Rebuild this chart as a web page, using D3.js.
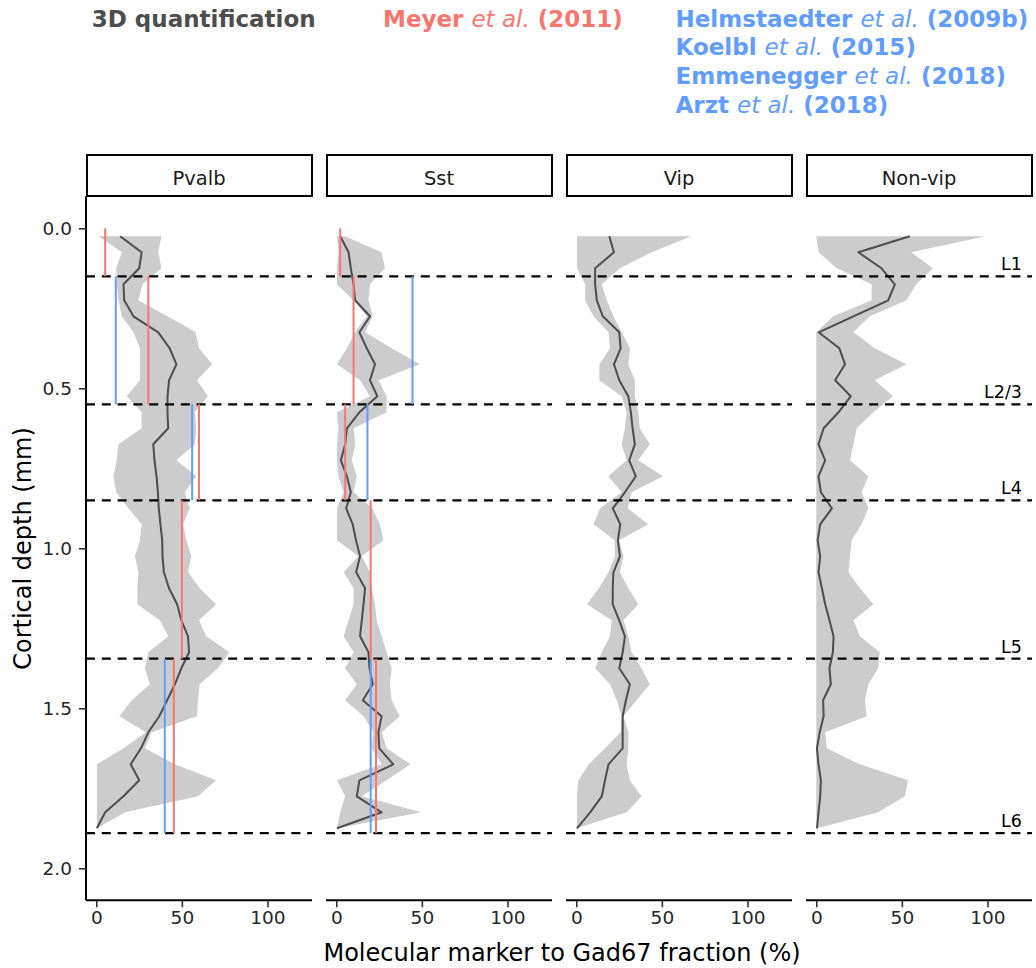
<!DOCTYPE html>
<html>
<head>
<meta charset="utf-8">
<script src="https://cdn.jsdelivr.net/npm/d3@7"></script>
<style>
  html, body { margin: 0; padding: 0; background: #fff; }
  svg { display: block; font-family: "DejaVu Sans", sans-serif; }
</style>
</head>
<body>
<svg id="chart" width="1036" height="968"></svg>
<script>
// Cortical depth bins (mm), centre of each 50 µm bin
const depth = [0.025, 0.075, 0.125, 0.175, 0.225, 0.275, 0.325, 0.375, 0.425, 0.475,
  0.525, 0.575, 0.625, 0.675, 0.725, 0.775, 0.825, 0.875, 0.925, 0.975,
  1.025, 1.075, 1.125, 1.175, 1.225, 1.275, 1.325, 1.375, 1.425, 1.475,
  1.525, 1.575, 1.625, 1.675, 1.725, 1.775, 1.825, 1.875];

const panels = ["Pvalb", "Sst", "Vip", "Non-vip"];

// 3D quantification: mean and spread (%) per bin
const pvalbMean = [13.9, 26.5, 25.1, 15.9, 16.3, 21.7, 36.2, 42.9, 46.8, 42.5, 41.6, 41.6, 42.0, 33.3, 34.0, 35.2, 36.0, 36.5, 37.5, 38.5,
  38.7, 39.5, 42.5, 47.2, 49.7, 53.6, 54.2, 49.7, 45.9, 41.4, 36.8, 30.4, 26.1, 20.1, 25.1, 15.9, 5.2, 0.4];
const pvalbLow = [1.3, 14.9, 11.6, 12.0, 13.0, 14.9, 21.7, 25.5, 25.5, 25.5, 17.8, 26.5, 26.5, 13.0, 12.0, 10.0, 11.6, 18.8, 26.5, 25.5,
  22.6, 24.6, 24.0, 24.0, 37.1, 42.0, 30.4, 28.4, 31.3, 20.7, 13.5, 29.0, 15.9, 0.4, 0.4, 0.4, 0.4, 0.4];
const pvalbHigh = [38.1, 36.2, 38.1, 27.0, 24.6, 41.6, 58.0, 60.0, 67.7, 58.8, 65.2, 57.5, 58.4, 57.5, 46.8, 58.4, 51.7, 54.6, 50.7, 52.6,
  55.5, 53.6, 60.4, 70.0, 60.0, 64.2, 77.8, 71.0, 60.4, 59.4, 58.8, 32.3, 28.4, 45.9, 70.0, 59.4, 16.8, 0.4];

const sstMean = [2.3, 7.2, 8.5, 10.1, 11.0, 19.7, 13.5, 17.8, 22.6, 19.7, 24.0, 13.5, 6.2, 5.2, 2.7, 6.2, 8.5, 5.8, 9.6, 11.5,
  13.9, 11.6, 16.8, 15.9, 14.9, 13.9, 18.8, 19.4, 21.3, 15.5, 26.5, 24.6, 25.1, 33.3, 13.5, 12.0, 26.5, 0.4];
const sstLow = [0.4, 1.3, 0.4, 0.4, 10.1, 17.8, 11.0, 6.2, 0.4, 13.9, 19.7, 0.4, 1.3, 0.4, 0.4, 1.3, 4.3, 0.4, 0.4, 0.4,
  12.9, 4.3, 10.1, 10.1, 7.2, 4.3, 10.1, 5.2, 12.0, 5.2, 15.9, 21.7, 20.7, 26.5, 0.4, 5.2, 2.3, 0.4];
const sstHigh = [5.0, 26.5, 28.4, 19.7, 18.8, 21.3, 16.8, 32.3, 48.7, 24.6, 29.4, 29.4, 10.1, 11.0, 9.1, 12.0, 10.1, 21.0, 25.5, 27.5,
  14.9, 19.7, 20.7, 22.6, 23.6, 26.5, 29.4, 32.3, 31.3, 32.3, 37.1, 26.5, 29.4, 43.3, 29.4, 14.9, 49.7, 0.4];

const vipMean = [19.3, 22.0, 11.0, 11.0, 12.0, 15.5, 25.1, 25.9, 22.0, 25.1, 30.4, 31.9, 32.9, 34.2, 30.9, 34.8, 28.4, 21.3, 25.7, 24.3,
  25.5, 21.7, 21.3, 21.3, 25.1, 28.4, 27.1, 25.1, 31.3, 29.0, 27.1, 27.1, 27.1, 18.8, 16.8, 14.9, 8.1, 0.4];
const vipLow = [0.4, 0.4, 0.4, 5.2, 5.2, 10.1, 18.8, 19.7, 13.5, 13.5, 26.5, 29.4, 28.4, 26.5, 29.4, 18.8, 26.5, 13.9, 10.1, 22.4,
  22.6, 18.8, 13.2, 6.2, 20.7, 19.7, 14.9, 11.0, 19.7, 23.6, 26.5, 25.9, 16.8, 7.2, 1.3, 0.4, 0.4, 0.4];
const vipHigh = [67.1, 44.0, 25.5, 14.9, 17.8, 21.7, 26.5, 31.3, 30.4, 34.2, 34.2, 36.2, 37.1, 42.9, 36.2, 50.7, 32.3, 30.0, 42.0, 25.1,
  27.5, 25.5, 30.4, 36.2, 27.5, 30.4, 32.3, 38.1, 43.0, 35.2, 27.5, 30.4, 30.4, 29.4, 31.3, 38.1, 29.4, 0.4];

const nonVipMean = [54.6, 24.6, 38.1, 45.9, 42.0, 21.7, 1.4, 13.5, 16.8, 11.0, 20.1, 13.0, 4.3, 1.3, 5.2, 1.3, 2.7, 9.1, 2.3, 0.8,
  2.3, 1.3, 3.3, 5.2, 7.7, 10.1, 9.7, 7.7, 8.5, 4.0, 4.3, 2.0, 0.4, 1.3, 2.7, 2.3, 1.3, 0.4];
const nonVipLow = [0, 1.4, 12.0, 32.3, 32.3, 10.1, 0, 0, 0, 0, 0, 0, 0, 0, 0, 0, 0, 0, 0, 0,
  0, 0, 0, 0, 0, 0, 0, 0, 0, 0, 0, 0, 0, 0, 0, 0, 0, 0.4];
const nonVipHigh = [99.0, 55.5, 68.1, 58.4, 52.6, 31.3, 21.7, 34.2, 52.6, 34.2, 44.9, 33.3, 23.6, 21.7, 19.7, 30.4, 26.5, 30.4, 26.5, 20.7,
  19.7, 18.8, 25.5, 33.3, 21.7, 25.5, 37.1, 36.2, 30.4, 28.4, 29.4, 5.2, 6.2, 25.5, 53.6, 51.7, 36.2, 0.4];

// Cortical layer boundaries (mm) and labels
const layerBounds = [0, 0.15, 0.55, 0.85, 1.345, 1.89];
const layerNames = ["L1", "L2/3", "L4", "L5", "L6"];

// Literature values per layer (%), null where not reported
const meyerPvalb = [5.2, 30.4, 60.0, 50.0, 45.3];
const otherPvalb = [null, 11.4, 56.0, null, 40.0];
const meyerSst = [2.3, 10.1, 5.2, 20.1, 23.2];
const otherSst = [null, 44.5, 18.2, null, 20.1];

const xTicks = [0, 50, 100];
const yTicks = [0, 0.5, 1.0, 1.5, 2.0];

const series = {
  "Pvalb":   { mean: pvalbMean,  low: pvalbLow,  high: pvalbHigh,  meyer: meyerPvalb, other: otherPvalb },
  "Sst":     { mean: sstMean,    low: sstLow,    high: sstHigh,    meyer: meyerSst,   other: otherSst },
  "Vip":     { mean: vipMean,    low: vipLow,    high: vipHigh,    meyer: null,       other: null },
  "Non-vip": { mean: nonVipMean, low: nonVipLow, high: nonVipHigh, meyer: null,       other: null }
};

const COL_MEYER = "#F8766D";
const COL_OTHER = "#619CFF";
const COL_OURS = "#4D4D4D";
const COL_TICKTEXT = "#262626";

const svg = d3.select("#chart");

// panel geometry
const panelX0 = 86, panelStep = 240, panelW = 226;
const panelTop = 196.3, panelBottom = 900.3;
const stripTop = 155;

const x = d3.scaleLinear().domain([-6, 126]).range([0, panelW]);
const y = d3.scaleLinear().domain([-0.1, 2.1]).range([panelTop, panelBottom]);

const area = d3.area()
  .y((d, i) => y(depth[i]))
  .x0(d => x(d[0]))
  .x1(d => x(d[1]));
const line = d3.line()
  .x(d => x(d))
  .y((d, i) => y(depth[i]));

panels.forEach((name, p) => {
  const s = series[name];
  const g = svg.append("g").attr("transform", `translate(${panelX0 + p * panelStep},0)`);

  // strip
  g.append("rect")
    .attr("x", 1).attr("y", stripTop)
    .attr("width", panelW - 1).attr("height", panelTop - stripTop - 0.3)
    .attr("fill", "#fff").attr("stroke", "#000").attr("stroke-width", 2);
  g.append("text")
    .attr("x", panelW / 2).attr("y", 185)
    .attr("text-anchor", "middle")
    .attr("font-size", 19.5).attr("fill", "#1A1A1A")
    .text(name);

  // ribbon and mean profile
  g.append("path")
    .datum(s.low.map((v, i) => [v, s.high[i]]))
    .attr("d", area)
    .attr("fill", "#CCCCCC");
  g.append("path")
    .datum(s.mean)
    .attr("d", line)
    .attr("fill", "none")
    .attr("stroke", COL_OURS)
    .attr("stroke-width", 2)
    .attr("stroke-linejoin", "round");

  // layer boundaries
  g.selectAll("line.bound")
    .data(layerBounds.slice(1))
    .join("line")
    .attr("class", "bound")
    .attr("x1", 0).attr("x2", panelW)
    .attr("y1", d => y(d)).attr("y2", d => y(d))
    .attr("stroke", "#000").attr("stroke-width", 2.2)
    .attr("stroke-dasharray", "9,6.8");

  // literature values per layer
  const drawRefs = (vals, col) => {
    if (!vals) return;
    const segs = vals.map((v, i) => ({ v, i })).filter(d => d.v !== null);
    g.selectAll(null)
      .data(segs)
      .join("line")
      .attr("x1", d => x(d.v)).attr("x2", d => x(d.v))
      .attr("y1", d => y(layerBounds[d.i])).attr("y2", d => y(layerBounds[d.i + 1]))
      .attr("stroke", col).attr("stroke-width", 2);
  };
  drawRefs(s.other, COL_OTHER);
  drawRefs(s.meyer, COL_MEYER);

  // x axis
  const xa = g.append("g")
    .attr("transform", `translate(0,${panelBottom})`)
    .call(d3.axisBottom(x).tickValues(xTicks).tickSize(7).tickPadding(4).tickFormat(d3.format("d")));
  xa.select(".domain").attr("stroke", "#000").attr("stroke-width", 2).attr("d", `M0,0H${panelW}`);
  xa.selectAll(".tick line").attr("stroke", "#333").attr("stroke-width", 1.6);
  xa.selectAll(".tick text").attr("font-size", 18.5).attr("fill", COL_TICKTEXT).attr("font-family", "DejaVu Sans");

  // layer labels in last panel
  if (p === panels.length - 1) {
    g.selectAll("text.layer")
      .data(layerNames)
      .join("text")
      .attr("class", "layer")
      .attr("x", panelW - 10)
      .attr("y", (d, i) => y(layerBounds[i + 1]) - 6)
      .attr("text-anchor", "end")
      .attr("font-size", 17.5)
      .attr("fill", "#000")
      .text(d => d);
  }
});

// y axis on first panel
const ya = svg.append("g")
  .attr("transform", `translate(${panelX0},0)`)
  .call(d3.axisLeft(y).tickValues(yTicks).tickSize(7).tickPadding(7).tickFormat(d3.format(".1f")));
ya.select(".domain").attr("stroke", "#000").attr("stroke-width", 2).attr("d", `M0,${panelTop}V${panelBottom}`);
ya.selectAll(".tick line").attr("stroke", "#333").attr("stroke-width", 1.6);
ya.selectAll(".tick text").attr("font-size", 18.5).attr("fill", COL_TICKTEXT).attr("font-family", "DejaVu Sans");

// axis titles
svg.append("text")
  .attr("transform", "translate(31,548.5) rotate(-90)")
  .attr("text-anchor", "middle")
  .attr("font-size", 24)
  .attr("fill", "#000")
  .text("Cortical depth (mm)");
svg.append("text")
  .attr("x", 562).attr("y", 961)
  .attr("text-anchor", "middle")
  .attr("font-size", 24)
  .attr("fill", "#000")
  .text("Molecular marker to Gad67 fraction (%)");

// source key
const keyRows = [
  { x: 91.7, y: 26.5, col: COL_OURS, parts: [["3D quantification", false]] },
  { x: 383, y: 26.5, col: COL_MEYER, parts: [["Meyer ", false], ["et al.", true], [" (2011)", false]] },
  { x: 675.5, y: 26.5, col: COL_OTHER, parts: [["Helmstaedter ", false], ["et al.", true], [" (2009b)", false]] },
  { x: 675.5, y: 55.2, col: COL_OTHER, parts: [["Koelbl ", false], ["et al.", true], [" (2015)", false]] },
  { x: 675.5, y: 83.9, col: COL_OTHER, parts: [["Emmenegger ", false], ["et al.", true], [" (2018)", false]] },
  { x: 675.5, y: 112.6, col: COL_OTHER, parts: [["Arzt ", false], ["et al.", true], [" (2018)", false]] }
];
keyRows.forEach(r => {
  const t = svg.append("text")
    .attr("x", r.x).attr("y", r.y)
    .attr("font-size", 23)
    .attr("fill", r.col)
    .attr("xml:space", "preserve");
  r.parts.forEach(([txt, it]) => {
    t.append("tspan")
      .attr("font-weight", it ? "normal" : "bold")
      .attr("font-style", it ? "italic" : "normal")
      .text(txt);
  });
});
</script>
</body>
</html>
